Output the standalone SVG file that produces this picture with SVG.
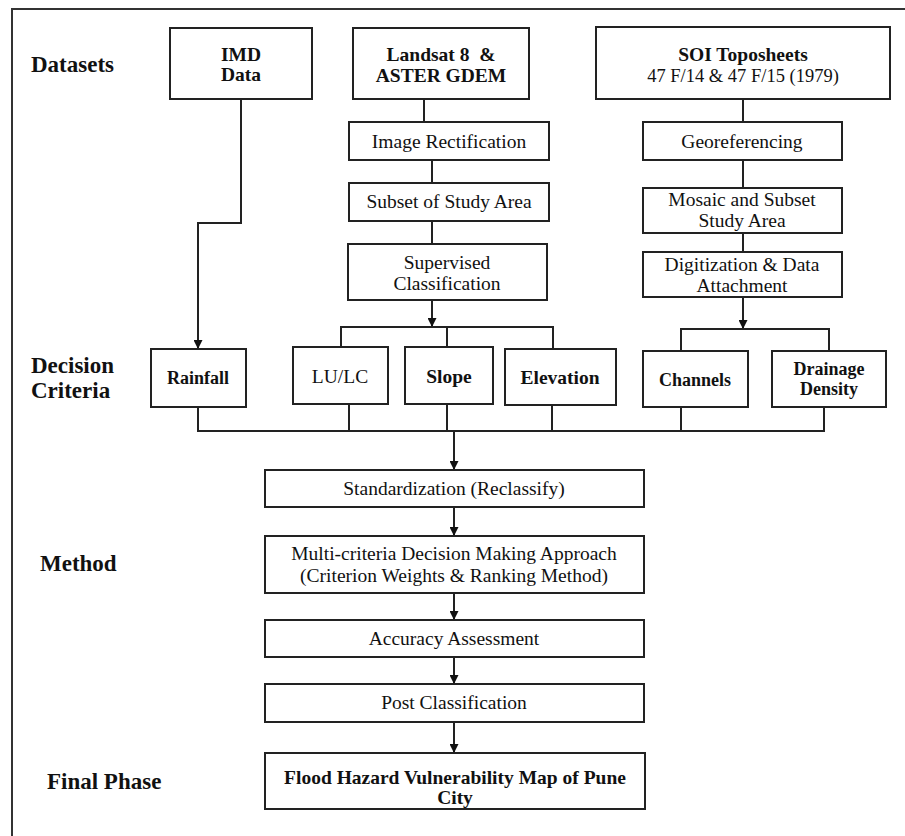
<svg xmlns="http://www.w3.org/2000/svg" width="905" height="836" viewBox="0 0 905 836">
<defs>
<style>
.box{fill:#fff;stroke:#222;stroke-width:2}
.frame{fill:none;stroke:#333;stroke-width:2}
.ln{fill:none;stroke:#222;stroke-width:2}
.t{font-family:"Liberation Serif","Times New Roman",serif;font-size:19.5px;fill:#111;text-anchor:middle}
.b{font-weight:bold}
.s{font-size:18px}
.lab{font-family:"Liberation Serif","Times New Roman",serif;font-size:23px;font-weight:bold;fill:#111}
</style>
<marker id="arr" markerWidth="9" markerHeight="9" refX="9" refY="4.5" orient="auto" markerUnits="userSpaceOnUse">
<path d="M0,0 L9,4.5 L0,9 z" fill="#111"/>
</marker>
</defs>
<rect width="905" height="836" fill="#fff"/>
<rect class="frame" x="12" y="9" width="920" height="860"/>

<g id="labels">
<text class="lab" x="31" y="72">Datasets</text>
<text class="lab" x="31" y="373">Decision</text>
<text class="lab" x="31" y="398">Criteria</text>
<text class="lab" x="40" y="571">Method</text>
<text class="lab" x="47" y="789">Final Phase</text>
</g>

<g id="connectors">
<polyline class="ln" points="241,99 241,223 198,223 198,349" marker-end="url(#arr)"/>
<line class="ln" x1="424" y1="99" x2="424" y2="122"/>
<line class="ln" x1="432" y1="160" x2="432" y2="183"/>
<line class="ln" x1="432" y1="221" x2="432" y2="244"/>
<line class="ln" x1="432" y1="300" x2="432" y2="327" marker-end="url(#arr)"/>
<polyline class="ln" points="341,347 341,327 553,327 553,349"/>
<line class="ln" x1="447" y1="327" x2="447" y2="347"/>
<line class="ln" x1="743" y1="99" x2="743" y2="122"/>
<line class="ln" x1="743" y1="160" x2="743" y2="188"/>
<line class="ln" x1="743" y1="233" x2="743" y2="252"/>
<line class="ln" x1="743" y1="297" x2="743" y2="329" marker-end="url(#arr)"/>
<polyline class="ln" points="681,351 681,329 829,329 829,351"/>
<polyline class="ln" points="198,407 198,431 824,431 824,407"/>
<line class="ln" x1="349" y1="404" x2="349" y2="431"/>
<line class="ln" x1="447" y1="404" x2="447" y2="431"/>
<line class="ln" x1="552" y1="405" x2="552" y2="431"/>
<line class="ln" x1="681" y1="407" x2="681" y2="431"/>
<line class="ln" x1="454" y1="431" x2="454" y2="470" marker-end="url(#arr)"/>
<line class="ln" x1="454" y1="507" x2="454" y2="536" marker-end="url(#arr)"/>
<line class="ln" x1="454" y1="593" x2="454" y2="620" marker-end="url(#arr)"/>
<line class="ln" x1="454" y1="657" x2="454" y2="684" marker-end="url(#arr)"/>
<line class="ln" x1="454" y1="722" x2="454" y2="753" marker-end="url(#arr)"/>
</g>

<g id="imd">
<rect class="box" x="170" y="28" width="142" height="71"/>
<text class="t b" x="241" y="61">IMD</text>
<text class="t b" x="241" y="81">Data</text>
</g>
<g id="landsat">
<rect class="box" x="353" y="28" width="176" height="71"/>
<text class="t b" x="441" y="61">Landsat 8&#160; &amp;</text>
<text class="t b" x="441" y="82">ASTER GDEM</text>
</g>
<g id="soi">
<rect class="box" x="596" y="27" width="294" height="72"/>
<text class="t b" x="743" y="61">SOI Toposheets</text>
<text class="t" x="743" y="82" style="font-size:18.5px">47 F/14 &amp; 47 F/15 (1979)</text>
</g>
<g id="image-rectification">
<rect class="box" x="349" y="122" width="200" height="38"/>
<text class="t" x="449" y="148">Image Rectification</text>
</g>
<g id="subset">
<rect class="box" x="349" y="183" width="200" height="38"/>
<text class="t" x="449" y="208">Subset of Study Area</text>
</g>
<g id="supervised">
<rect class="box" x="348" y="244" width="199" height="56"/>
<text class="t" x="447" y="269">Supervised</text>
<text class="t" x="447" y="290">Classification</text>
</g>
<g id="georeferencing">
<rect class="box" x="643" y="122" width="199" height="38"/>
<text class="t" x="742" y="148">Georeferencing</text>
</g>
<g id="mosaic">
<rect class="box" x="643" y="188" width="199" height="45"/>
<text class="t" x="742" y="206">Mosaic and Subset</text>
<text class="t" x="742" y="227">Study Area</text>
</g>
<g id="digitization">
<rect class="box" x="643" y="252" width="199" height="45"/>
<text class="t" x="742" y="271">Digitization &amp; Data</text>
<text class="t" x="742" y="292">Attachment</text>
</g>
<g id="rainfall">
<rect class="box" x="151" y="349" width="95" height="58"/>
<text class="t b s" x="198" y="384">Rainfall</text>
</g>
<g id="lulc">
<rect class="box" x="293" y="347" width="95" height="57"/>
<text class="t" x="340" y="383">LU/LC</text>
</g>
<g id="slope">
<rect class="box" x="405" y="347" width="88" height="57"/>
<text class="t b" x="449" y="383">Slope</text>
</g>
<g id="elevation">
<rect class="box" x="505" y="349" width="111" height="56"/>
<text class="t b" x="560" y="384">Elevation</text>
</g>
<g id="channels">
<rect class="box" x="643" y="351" width="105" height="56"/>
<text class="t b s" x="695" y="386">Channels</text>
</g>
<g id="drainage">
<rect class="box" x="772" y="351" width="114" height="56"/>
<text class="t b s" x="829" y="375">Drainage</text>
<text class="t b s" x="829" y="395">Density</text>
</g>
<g id="standardization">
<rect class="box" x="265" y="470" width="379" height="37"/>
<text class="t" x="454" y="495">Standardization (Reclassify)</text>
</g>
<g id="mcdm">
<rect class="box" x="265" y="536" width="379" height="57"/>
<text class="t" x="454" y="560">Multi-criteria Decision Making Approach</text>
<text class="t" x="454" y="582">(Criterion Weights &amp; Ranking Method)</text>
</g>
<g id="accuracy">
<rect class="box" x="265" y="620" width="379" height="37"/>
<text class="t" x="454" y="645">Accuracy Assessment</text>
</g>
<g id="post-classification">
<rect class="box" x="265" y="684" width="379" height="38"/>
<text class="t" x="454" y="709">Post Classification</text>
</g>
<g id="final-map">
<rect class="box" x="265" y="753" width="380" height="56"/>
<text class="t b" x="455" y="784">Flood Hazard Vulnerability Map of Pune</text>
<text class="t b" x="455" y="804">City</text>
</g>
</svg>
